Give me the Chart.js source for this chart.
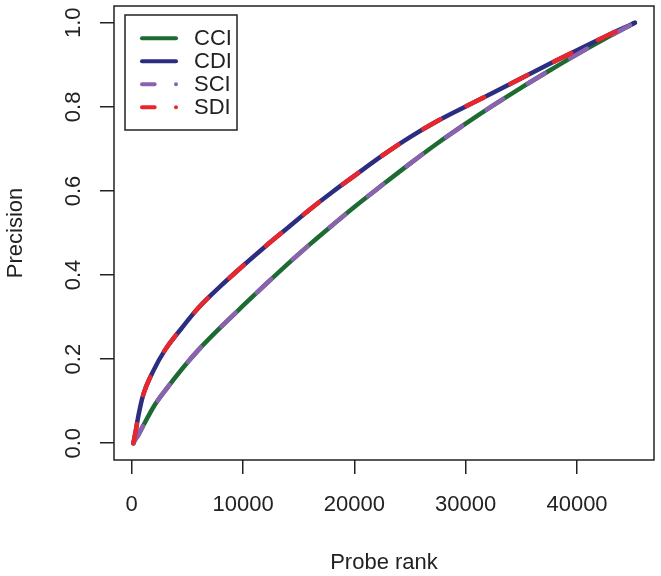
<!DOCTYPE html>
<html><head><meta charset="utf-8">
<script src="https://cdn.jsdelivr.net/npm/chart.js@4"></script>
<style>html,body{margin:0;padding:0;background:#fff}#wrap{width:661px;height:576px}</style>
</head><body><div id="wrap"><canvas id="c" width="661" height="576"></canvas></div>
<script>
// ---- data ----
const probeRank = [150, 300, 600, 1000, 2000, 3000, 4500, 6000, 8000, 10000, 12000, 14000, 16000, 18000, 20000, 22500, 25000, 27500, 30000, 32500, 35000, 37500, 40000, 42500, 45200];
const cciValues = [0, 0.008, 0.02, 0.04, 0.088, 0.125, 0.176, 0.222, 0.276, 0.327, 0.377, 0.426, 0.473, 0.518, 0.562, 0.614, 0.665, 0.714, 0.760, 0.804, 0.846, 0.886, 0.925, 0.962, 1.0];
const cdiValues = [0, 0.02, 0.065, 0.112, 0.175, 0.222, 0.274, 0.322, 0.374, 0.422, 0.468, 0.512, 0.556, 0.597, 0.636, 0.684, 0.728, 0.767, 0.801, 0.834, 0.868, 0.902, 0.935, 0.967, 1.0];
const sciValues = [0, 0.008, 0.02, 0.04, 0.088, 0.125, 0.176, 0.222, 0.276, 0.327, 0.377, 0.426, 0.473, 0.518, 0.562, 0.614, 0.665, 0.714, 0.760, 0.804, 0.846, 0.886, 0.925, 0.962, 1.0];
const sdiValues = [0, 0.02, 0.065, 0.112, 0.175, 0.222, 0.274, 0.322, 0.374, 0.422, 0.468, 0.512, 0.556, 0.597, 0.636, 0.684, 0.728, 0.767, 0.801, 0.834, 0.868, 0.902, 0.935, 0.967, 1.0];
const seriesNames = ['CCI', 'CDI', 'SCI', 'SDI'];
const xTickValues = [0, 10000, 20000, 30000, 40000];
const yTickValues = [0, 0.2, 0.4, 0.6, 0.8, 1.0];

// ---- styles ----
const FONT = '"Liberation Sans", Arial, Helvetica, sans-serif';
const INK = '#222222';
const colors = ['#1d6b33', '#2b2d80', '#8a62b0', '#e8262b'];
const LW = 4.5;
const curveDash = [19.5, 29.5];
const legendDash = [12.7, 21.3, 0.01, 100];

function pts(vals) { return probeRank.map((x, i) => ({ x: x, y: vals[i] })); }
const allVals = [cciValues, cdiValues, sciValues, sdiValues];

const datasets = seriesNames.map((name, i) => ({
  label: name,
  data: pts(allVals[i]),
  borderColor: colors[i],
  backgroundColor: colors[i],
  borderWidth: LW,
  borderCapStyle: 'round',
  borderJoinStyle: 'round',
  borderDash: i >= 2 ? curveDash : [],
  legendDash: i >= 2 ? legendDash : [],
  pointRadius: 0,
  fill: false,
  cubicInterpolationMode: 'monotone',
  order: 4 - i
}));

const framePlugin = {
  id: 'frame',
  afterDraw(chart) {
    const { ctx, chartArea: a } = chart;
    ctx.save();
    ctx.strokeStyle = INK;
    ctx.lineWidth = 1.5;
    ctx.setLineDash([]);
    ctx.strokeRect(a.left, a.top, a.right - a.left, a.bottom - a.top);
    // legend box
    const lx = a.left + 11, ly = a.top + 9, lw = 112, lh = 115;
    ctx.fillStyle = '#fff';
    ctx.fillRect(lx, ly, lw, lh);
    ctx.strokeRect(lx, ly, lw, lh);
    chart.data.datasets.forEach((ds, i) => {
      const y = ly + 23.3 + i * 23;
      ctx.beginPath();
      ctx.strokeStyle = ds.borderColor;
      ctx.lineWidth = 4;
      ctx.lineCap = 'round';
      ctx.setLineDash(ds.legendDash);
      ctx.moveTo(lx + 17, y);
      ctx.lineTo(lx + 51, y);
      ctx.stroke();
      ctx.setLineDash([]);
      ctx.fillStyle = INK;
      ctx.font = '22px ' + FONT;
      ctx.textBaseline = 'middle';
      ctx.textAlign = 'left';
      ctx.fillText(ds.label, lx + 69, y + 1);
    });
    ctx.restore();
  }
};

new Chart(document.getElementById('c'), {
  type: 'line',
  data: { datasets: datasets },
  options: {
    responsive: false,
    animation: false,
    devicePixelRatio: 1,
    layout: { padding: { top: 6, right: 7, left: 0, bottom: 0 } },
    plugins: { legend: { display: false }, tooltip: { enabled: false } },
    scales: {
      x: {
        type: 'linear',
        min: -1590, max: 46915,
        afterBuildTicks: s => { s.ticks = xTickValues.map(v => ({ value: v })); },
        afterFit: s => { s.height = 116; s.paddingLeft = 0; s.paddingRight = 0; },
        grid: { drawOnChartArea: false, drawTicks: true, tickLength: 14, color: INK, lineWidth: 1.5 },
        border: { display: false },
        ticks: { font: { family: FONT, size: 22 }, color: INK, padding: 18, maxRotation: 0, minRotation: 0, autoSkip: false, callback: v => String(v) },
        title: { display: true, text: 'Probe rank', font: { family: FONT, size: 22 }, color: INK, padding: { top: 0, bottom: 0 } }
      },
      y: {
        type: 'linear',
        min: -0.04, max: 1.04,
        afterBuildTicks: s => { s.ticks = yTickValues.map(v => ({ value: v })); },
        afterFit: s => { s.width = 114; s.paddingTop = 0; s.paddingBottom = 0; },
        grid: { drawOnChartArea: false, drawTicks: true, tickLength: 14, color: INK, lineWidth: 1.5 },
        border: { display: false },
        ticks: { font: { family: FONT, size: 22 }, color: INK, padding: 11, minRotation: 90, maxRotation: 90, crossAlign: 'center', autoSkip: false, callback: v => v.toFixed(1) },
        title: { display: true, text: 'Precision', font: { family: FONT, size: 22 }, color: INK, padding: { top: 3, bottom: 0 } }
      }
    }
  },
  plugins: [framePlugin]
});
</script>
</body></html>
